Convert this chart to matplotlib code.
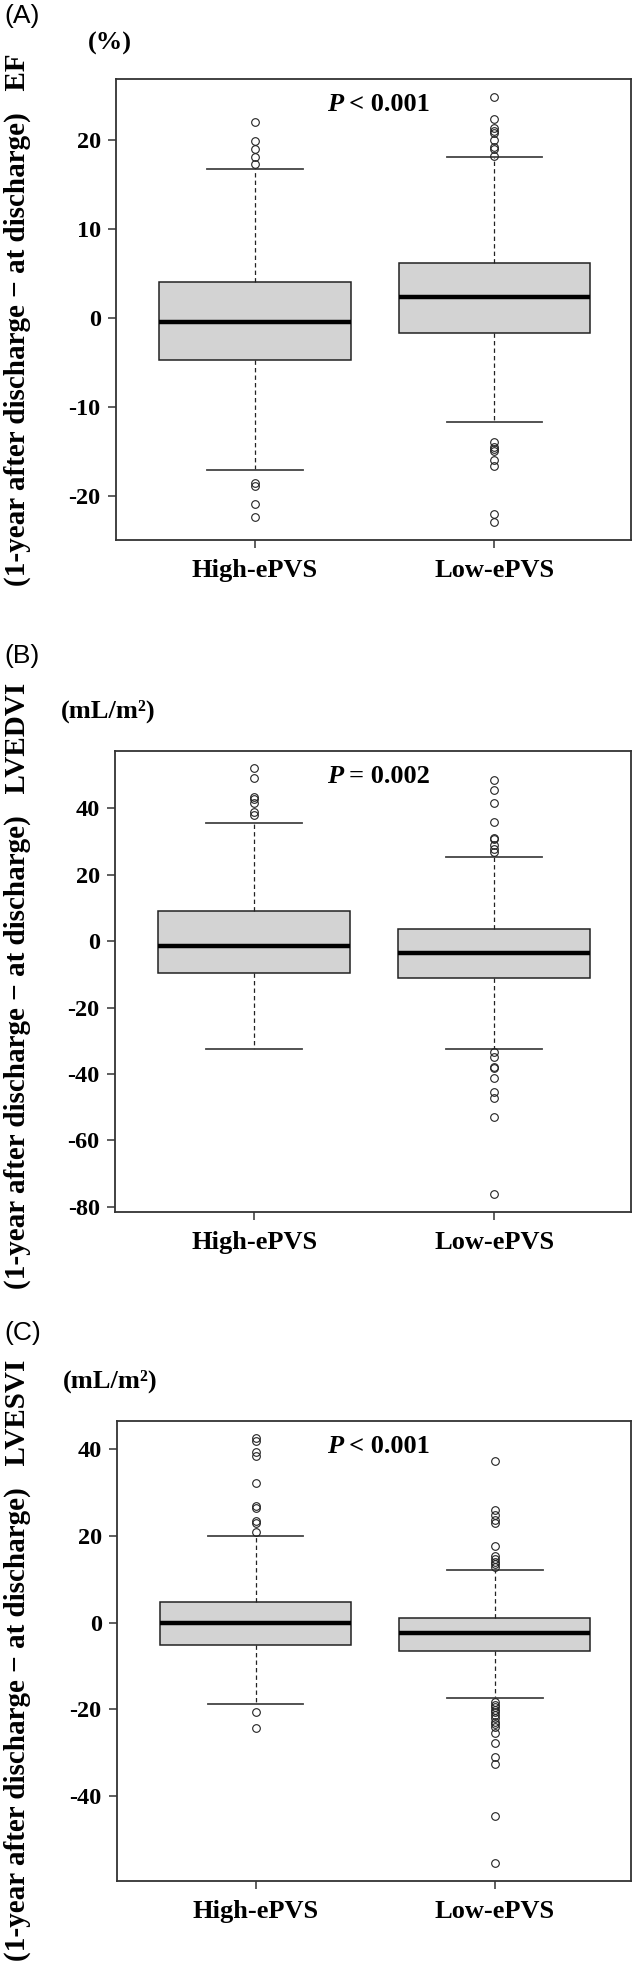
import matplotlib.pyplot as plt
from matplotlib.transforms import blended_transform_factory

plt.rcParams["axes.unicode_minus"] = False

groups = ["High-ePVS", "Low-ePVS"]

# Panel A: EF change (%)
ef_med = [-0.4, 2.4]
ef_q1 = [-4.75, -1.7]
ef_q3 = [4.0, 6.2]
ef_whislo = [-17.0, -11.7]
ef_whishi = [16.7, 18.0]
ef_fliers_high = [22.0, 19.8, 18.9, 18.0, 17.3, -18.5, -18.9, -20.9, -22.3]
ef_fliers_low = [24.8, 22.3, 21.3, 21.0, 20.7, 20.0, 19.2, 19.0, 18.2,
                 -13.9, -14.5, -14.7, -14.9, -15.9, -16.6, -22.0, -22.9]
ef_ticks = [-20, -10, 0, 10, 20]

# Panel B: LVEDVI change (mL/m2)
edvi_med = [-1.5, -3.7]
edvi_q1 = [-9.5, -11.2]
edvi_q3 = [9.2, 3.55]
edvi_whislo = [-32.5, -32.5]
edvi_whishi = [35.6, 25.4]
edvi_fliers_high = [52.1, 49.1, 43.4, 42.7, 41.7, 38.9, 38.1]
edvi_fliers_low = [48.5, 45.6, 41.7, 35.8, 31.1, 30.7, 28.9, 27.7, 26.9,
                   -33.4, -34.9, -37.9, -38.3, -41.1, -45.5, -47.3, -53.1, -76.3]
edvi_ticks = [-80, -60, -40, -20, 0, 20, 40]

# Panel C: LVESVI change (mL/m2)
esvi_med = [-0.15, -2.45]
esvi_q1 = [-5.15, -6.45]
esvi_q3 = [4.85, 1.0]
esvi_whislo = [-18.8, -17.45]
esvi_whishi = [20.1, 12.2]
esvi_fliers_high = [42.6, 42.0, 39.5, 38.5, 32.3, 26.9, 26.4, 23.4, 22.9, 21.0,
                    -20.5, -24.2]
esvi_fliers_low = [37.4, 26.0, 24.8, 23.7, 22.9, 17.7, 15.4, 14.6, 14.1, 13.6, 12.9,
                   -18.2, -19.0, -19.5, -20.1, -20.7, -21.2, -22.1, -22.8, -23.4,
                   -24.0, -25.5, -27.7, -30.9, -32.6, -44.6, -55.5]
esvi_ticks = [-40, -20, 0, 20, 40]

W, H = 634, 1968
SERIF = ["Liberation Serif", "DejaVu Serif"]


def px_rect(left, top, right, bottom):
    return [left / W, 1 - bottom / H, (right - left) / W, (bottom - top) / H]


def draw_panel(fig, rect, med, q1, q3, lo, hi, fliers, ticks, ylim,
               letter, letter_y, unit, unit_xy, ylabel, ylabel_y, ptext):
    ax = fig.add_axes(rect)
    stats = []
    for i in range(2):
        stats.append({"med": med[i], "q1": q1[i], "q3": q3[i],
                      "whislo": lo[i], "whishi": hi[i], "fliers": fliers[i]})
    ax.bxp(stats, positions=[1, 2], widths=0.8, capwidths=0.4, patch_artist=True,
           boxprops=dict(facecolor="#d3d3d3", edgecolor="#222222", linewidth=1.1),
           medianprops=dict(color="black", linewidth=3.2),
           whiskerprops=dict(color="#222222", linewidth=0.9, linestyle=(0, (3.5, 2.5))),
           capprops=dict(color="#444444", linewidth=1.3),
           flierprops=dict(marker="o", markerfacecolor="none", markeredgecolor="#222222",
                           markersize=5.5, markeredgewidth=0.8))
    ax.set_xlim(0.42, 2.57)
    ax.set_ylim(*ylim)
    ax.set_yticks(ticks)
    ax.set_yticklabels([str(t) for t in ticks])
    ax.set_xticks([1, 2])
    ax.set_xticklabels(groups)
    for lab in ax.get_yticklabels():
        lab.set_family(SERIF)
        lab.set_fontweight("bold")
        lab.set_fontsize(17.5)
    for lab in ax.get_xticklabels():
        lab.set_family(SERIF)
        lab.set_fontweight("bold")
        lab.set_fontsize(19)
    ax.tick_params(axis="y", length=6, width=1.1, color="#333333", pad=5)
    ax.tick_params(axis="x", length=6, width=1.1, color="#333333", pad=8)
    for sp in ax.spines.values():
        sp.set_color("#333333")
        sp.set_linewidth(1.3)

    # P value
    tr = blended_transform_factory(fig.transFigure, ax.transAxes)
    ax.text(343 / W, 0.930, "P", transform=tr, ha="right", va="baseline",
            family=SERIF, fontweight="bold", fontstyle="italic", fontsize=19)
    ax.text(349 / W, 0.930, ptext, transform=tr, ha="left", va="baseline",
            family=SERIF, fontweight="bold", fontsize=19)

    fig.text(4 / W, 1 - letter_y / H, letter, ha="left", va="center",
             family=["Liberation Sans", "DejaVu Sans"], fontsize=19)
    fig.text(unit_xy[0] / W, 1 - unit_xy[1] / H, unit, ha="center", va="center",
             family=SERIF, fontweight="bold", fontsize=19)
    fig.text(17 / W, 1 - ylabel_y / H, ylabel, rotation=90, ha="center", va="center",
             family=SERIF, fontweight="bold", fontsize=21)
    return ax


def main():
    fig = plt.figure(figsize=(W / 100, H / 100), dpi=100)

    draw_panel(fig, px_rect(116, 79, 631, 540),
               ef_med, ef_q1, ef_q3, ef_whislo, ef_whishi,
               [ef_fliers_high, ef_fliers_low], ef_ticks, (-24.9, 26.8),
               "(A)", 16, "(%)", (110, 43),
               "(1-year after discharge \u2212 at discharge)   EF", 320, "< 0.001")

    draw_panel(fig, px_rect(115, 751, 631, 1212),
               edvi_med, edvi_q1, edvi_q3, edvi_whislo, edvi_whishi,
               [edvi_fliers_high, edvi_fliers_low], edvi_ticks, (-81.6, 57.3),
               "(B)", 656, "(mL/m\u00b2)", (108, 711),
               "(1-year after discharge \u2212 at discharge)   LVEDVI", 986, "= 0.002")

    draw_panel(fig, px_rect(117, 1421, 631, 1881),
               esvi_med, esvi_q1, esvi_q3, esvi_whislo, esvi_whishi,
               [esvi_fliers_high, esvi_fliers_low], esvi_ticks, (-59.6, 46.55),
               "(C)", 1333, "(mL/m\u00b2)", (110, 1381),
               "(1-year after discharge \u2212 at discharge)   LVESVI", 1660, "< 0.001")

    fig.savefig("out.png", dpi=100)


if __name__ == "__main__":
    main()
